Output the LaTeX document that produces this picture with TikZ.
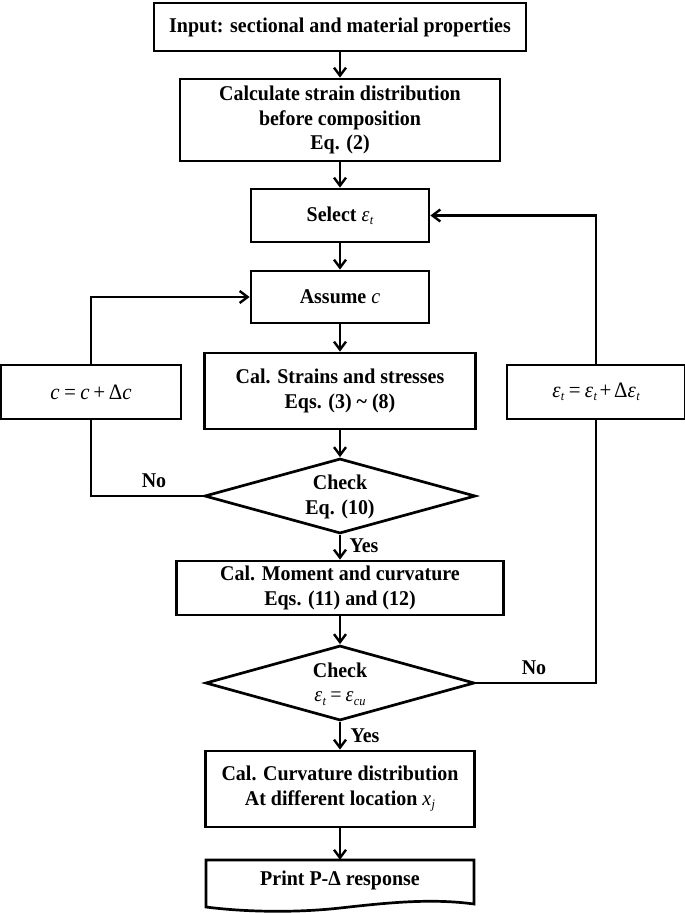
\documentclass[tikz,border=0pt]{standalone}
\usepackage{fontspec}
\setmainfont{Liberation Serif}[FakeStretch=0.95]
\usetikzlibrary{arrows.meta,shapes.geometric}
\newcommand{\isub}[2]{{\normalfont\itshape #1\kern0.02em\raisebox{-0.35ex}{\fontsize{13}{13}\selectfont #2}}}
\newcommand{\ivar}[1]{{\normalfont\itshape #1}}
\begin{document}
\begin{tikzpicture}[x=1pt,y=-1pt,
  font=\bfseries\fontsize{21}{24.5}\selectfont,
  box/.style={draw,line width=2.7pt,align=center,inner sep=0pt},
  flow/.style={line width=2.4pt,-{Straight Barb[length=8pt,width=12pt]}},
  link/.style={line width=2.4pt},
  lbl/.style={inner sep=0pt},
  mathbox/.style={box,font=\normalfont\fontsize{22}{24}\selectfont}]
\useasboundingbox (0,0) rectangle (685,913);

\node[box,minimum width=372pt,minimum height=48pt] (b1) at (340,27) {Input: sectional and material properties};
\node[box,minimum width=320pt,minimum height=82pt] (b2) at (340,120) {Calculate strain distribution\\before composition\\Eq. (2)};
\node[box,minimum width=178pt,minimum height=53pt] (b3) at (340,215.5) {Select \isub{ε}{t}};
\node[box,minimum width=178pt,minimum height=52pt] (b4) at (340,297) {Assume \ivar{c}};
\node[box,minimum width=271pt,minimum height=76pt] (b5) at (340,391) {Cal. Strains and stresses\\Eqs. (3) \textasciitilde{} (8)};
\node[mathbox,minimum width=180pt,minimum height=54pt] (lbox) at (91,392) {\itshape c\hspace{0.15em}=\hspace{0.15em}c\hspace{0.12em}+\hspace{0.12em}{\upshape Δ}c};
\node[mathbox,minimum width=178pt,minimum height=54pt] (rbox) at (596,392) {\isub{ε}{t}\hspace{0.2em}=\hspace{0.2em}\isub{ε}{t}\hspace{0.12em}+\hspace{0.12em}Δ\isub{ε}{t}};
\node[diamond,draw,line width=2.7pt,inner sep=0pt,minimum width=271pt,minimum height=75pt] (d1) at (340,496) {};
\node[lbl,align=center] (d1t) at (340,497) {Check\\Eq. (10)};
\node[box,minimum width=327pt,minimum height=54pt] (b6) at (340,588) {Cal. Moment and curvature\\Eqs. (11) and (12)};
\node[diamond,draw,line width=2.7pt,inner sep=0pt,minimum width=269pt,minimum height=75pt] (d2) at (340,683) {};
\node[lbl,align=center] (d2t) at (340,684) {Check\\{\normalfont\isub{ε}{t}\hspace{0.2em}=\hspace{0.2em}\isub{ε}{cu}}};
\node[box,minimum width=269pt,minimum height=76pt] (b7) at (340,789) {Cal. Curvature distribution\\At different location \isub{x}{j}};
\node[inner sep=0pt,minimum width=268pt,minimum height=48pt] (b8) at (340,884) {};
\node[lbl] (b8t) at (340,880) {Print P-Δ response};
\draw[line width=2.7pt,line join=miter] (206,907) -- (206,860) -- (474,860) -- (474,904)
  .. controls (430,898) and (385,903) .. (340,908)
  .. controls (295,913) and (245,912) .. (206,907) -- cycle;

\draw[flow] (b1.south) -- (b2.north);
\draw[flow] (b2.south) -- (b3.north);
\draw[flow] (b3.south) -- (b4.north);
\draw[flow] (b4.south) -- (b5.north);
\draw[flow] (b5.south) -- (d1.north);
\draw[flow] (d1.south) -- (b6.north);
\draw[flow] (b6.south) -- (d2.north);
\draw[flow] (d2.south) -- (b7.north);
\draw[flow] (b7.south) -- (b8.north);

\draw[link] (d1.west) -| (lbox.south);
\draw[flow] (lbox.north) |- (b4.west);
\draw[link] (d2.east) -| (rbox.south);
\draw[flow] (rbox.north) |- (b3.east);

\node[lbl] (no1) at (154,481) {No};
\node[lbl] (yes1) at (364,546) {Yes};
\node[lbl] (no2) at (534,668) {No};
\node[lbl] (yes2) at (365,736) {Yes};
\end{tikzpicture}
\end{document}
